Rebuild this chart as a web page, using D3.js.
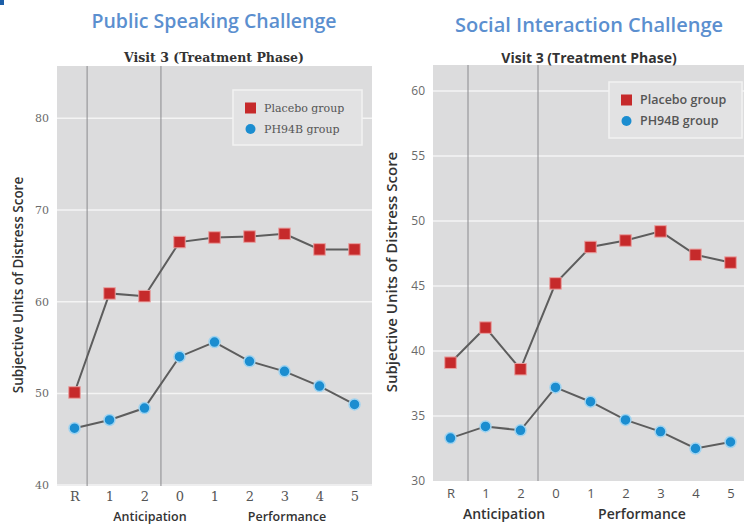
<!DOCTYPE html>
<html>
<head>
<meta charset="utf-8">
<script src="https://cdn.jsdelivr.net/npm/d3@7"></script>
<style>
  html, body { margin: 0; padding: 0; background: #ffffff; }
  svg { display: block; }
</style>
</head>
<body>
<svg id="chart" width="744" height="526"></svg>
<script>
// Time points along the x axis (rest, anticipation 1-2, performance 0-5)
const timePoints = ["R", "1", "2", "0", "1", "2", "3", "4", "5"];
const seriesNames = ["Placebo group", "PH94B group"];

// Public Speaking Challenge – mean SUDS per time point
const speakingPlacebo = [50.1, 60.9, 60.6, 66.5, 67.0, 67.1, 67.4, 65.7, 65.7];
const speakingPH94B   = [46.2, 47.1, 48.4, 54.0, 55.6, 53.5, 52.4, 50.8, 48.8];
const speakingTicks   = [40, 50, 60, 70, 80];

// Social Interaction Challenge – mean SUDS per time point
const socialPlacebo = [39.1, 41.8, 38.6, 45.2, 48.0, 48.5, 49.2, 47.4, 46.8];
const socialPH94B   = [33.3, 34.2, 33.9, 37.2, 36.1, 34.7, 33.8, 32.5, 33.0];
const socialTicks   = [30, 35, 40, 45, 50, 55, 60];

const phaseNames = ["Anticipation", "Performance"];

const svg = d3.select("#chart");
const RED = "#c62a2b", BLUE = "#1b8dd0", LINE = "#5d5d5d";

function drawPanel(cfg) {
  const g = svg.append("g");
  const idx = d3.range(timePoints.length);
  const x = d3.scalePoint().domain(idx).range([cfg.left, cfg.right]).padding(0.5);
  const step = x.step();
  const y = d3.scaleLinear().domain(cfg.domain).range([cfg.bottom, cfg.top]);

  // panel background
  g.append("rect")
    .attr("x", cfg.left).attr("y", cfg.top)
    .attr("width", cfg.right - cfg.left).attr("height", cfg.bottom - cfg.top)
    .attr("fill", "#dcdcdd");

  // horizontal grid
  g.selectAll(".grid").data(cfg.ticks.filter(t => t > cfg.domain[0])).join("line")
    .attr("x1", cfg.left).attr("x2", cfg.right)
    .attr("y1", d => y(d)).attr("y2", d => y(d))
    .attr("stroke", "#f4f4f4").attr("stroke-width", 1.5);

  // phase separators
  cfg.separators.forEach(s => {
    const sx = x(0) + s * step;
    g.append("line")
      .attr("x1", sx).attr("x2", sx).attr("y1", cfg.top).attr("y2", cfg.bottom)
      .attr("stroke", "#8a8a8e").attr("stroke-width", 1);
  });

  // y axis labels
  const yAxis = d3.axisLeft(y).tickValues(cfg.ticks).tickSize(0).tickPadding(0);
  const ya = g.append("g").attr("transform", `translate(${cfg.left - 8},0)`).call(yAxis);
  ya.select(".domain").remove();
  ya.selectAll("text")
    .attr("font-family", cfg.tickFont).attr("font-size", cfg.yTickSize).attr("fill", "#6a6a6a");

  // x axis labels
  const xAxis = d3.axisBottom(x).tickFormat(i => timePoints[i]).tickSize(0).tickPadding(0);
  const xa = g.append("g").attr("transform", `translate(0,${cfg.xTickY})`).call(xAxis);
  xa.select(".domain").remove();
  xa.selectAll("text")
    .attr("font-family", cfg.tickFont).attr("font-size", 13).attr("fill", "#555")
    .attr("dy", "0");

  // phase names
  phaseNames.forEach((p, i) => {
    g.append("text")
      .attr("x", cfg.phaseX[i]).attr("y", cfg.phaseY)
      .attr("text-anchor", "middle")
      .attr("font-family", "Open Sans, sans-serif").attr("font-size", cfg.phaseSize)
      .attr("font-weight", 600).attr("fill", "#333")
      .text(p);
  });

  // titles
  g.append("text")
    .attr("x", cfg.titleX).attr("y", cfg.titleY).attr("text-anchor", "middle")
    .attr("font-family", "Open Sans, sans-serif").attr("font-weight", 600)
    .attr("font-size", cfg.titleSize).attr("fill", "#5b8fcf")
    .text(cfg.title);
  g.append("text")
    .attr("x", cfg.titleX).attr("y", cfg.subtitleY).attr("text-anchor", "middle")
    .attr("font-family", cfg.subtitleFont).attr("font-weight", 700)
    .attr("font-size", cfg.subtitleSize).attr("fill", "#333")
    .text("Visit 3 (Treatment Phase)");

  // y axis title
  g.append("text")
    .attr("transform", `translate(${cfg.yTitleX},${cfg.yTitleY}) rotate(-90)`)
    .attr("text-anchor", "middle")
    .attr("font-family", "Open Sans, sans-serif").attr("font-weight", 600)
    .attr("font-size", cfg.yTitleSize).attr("fill", "#333")
    .text("Subjective Units of Distress Score");

  // series lines and markers
  const line = d3.line().x((d, i) => x(i)).y(d => y(d));
  [cfg.placebo, cfg.ph94b].forEach(vals => {
    g.append("path").datum(vals).attr("d", line)
      .attr("fill", "none").attr("stroke", LINE).attr("stroke-width", 2);
  });
  const sq = 11.5;
  g.selectAll(".pl").data(cfg.placebo).join("rect")
    .attr("x", (d, i) => x(i) - sq / 2).attr("y", d => y(d) - sq / 2)
    .attr("width", sq).attr("height", sq)
    .attr("fill", RED).attr("stroke", "#e8a0a0").attr("stroke-width", 1);
  g.selectAll(".ph").data(cfg.ph94b).join("circle")
    .attr("cx", (d, i) => x(i)).attr("cy", d => y(d)).attr("r", 5.5)
    .attr("fill", BLUE).attr("stroke", "#9fd3f0").attr("stroke-width", 1.5);

  // legend
  const L = cfg.legend;
  const lg = g.append("g");
  lg.append("rect").attr("x", L.x).attr("y", L.y).attr("width", L.w).attr("height", L.h)
    .attr("fill", "#e2e2e3").attr("stroke", "#f2f2f2").attr("stroke-width", 1.5);
  seriesNames.forEach((name, i) => {
    const cy = L.y + 18 + i * 21;
    if (i === 0) {
      lg.append("rect").attr("x", L.x + 12).attr("y", cy - 5.5)
        .attr("width", 11).attr("height", 11).attr("fill", RED);
    } else {
      lg.append("circle").attr("cx", L.x + 17.5).attr("cy", cy).attr("r", 5)
        .attr("fill", BLUE);
    }
    lg.append("text").attr("x", L.x + 31).attr("y", cy + 4)
      .attr("font-family", cfg.legendFont).attr("font-size", cfg.legendSize)
      .attr("font-weight", cfg.legendWeight).attr("fill", "#555")
      .text(name);
  });
}

drawPanel({
  title: "Public Speaking Challenge", titleSize: 19.5,
  left: 57, right: 372, top: 66, bottom: 486,
  domain: [39.9, 85.7], ticks: speakingTicks,
  placebo: speakingPlacebo, ph94b: speakingPH94B,
  separators: [0.36, 2.47],
  xTickY: 501, phaseX: [150, 287], phaseY: 521, phaseSize: 12.5,
  titleX: 214, titleY: 28, subtitleY: 62,
  subtitleFont: "DejaVu Serif, serif", subtitleSize: 12.5,
  yTitleX: 23, yTitleY: 285, yTitleSize: 13.5,
  tickFont: "DejaVu Serif, serif", yTickSize: 11,
  legendFont: "DejaVu Serif, serif", legendSize: 11, legendWeight: 400,
  legend: { x: 233, y: 90, w: 129, h: 55 }
});

drawPanel({
  title: "Social Interaction Challenge", titleSize: 20,
  left: 433, right: 748, top: 65, bottom: 481,
  domain: [30, 62], ticks: socialTicks,
  placebo: socialPlacebo, ph94b: socialPH94B,
  separators: [0.5, 2.5],
  xTickY: 498, phaseX: [504, 642], phaseY: 519, phaseSize: 14,
  titleX: 589, titleY: 32, subtitleY: 63,
  subtitleFont: "Open Sans, sans-serif", subtitleSize: 14,
  yTitleX: 397, yTitleY: 272, yTitleSize: 15,
  tickFont: "Open Sans, sans-serif", yTickSize: 12,
  legendFont: "Open Sans, sans-serif", legendSize: 12.5, legendWeight: 600,
  legend: { x: 609, y: 82, w: 133, h: 56 }
});

// small accent mark in the top-left corner
svg.append("rect").attr("x", 0).attr("y", 0).attr("width", 4).attr("height", 5).attr("fill", "#1d5fa8");
</script>
</body>
</html>
